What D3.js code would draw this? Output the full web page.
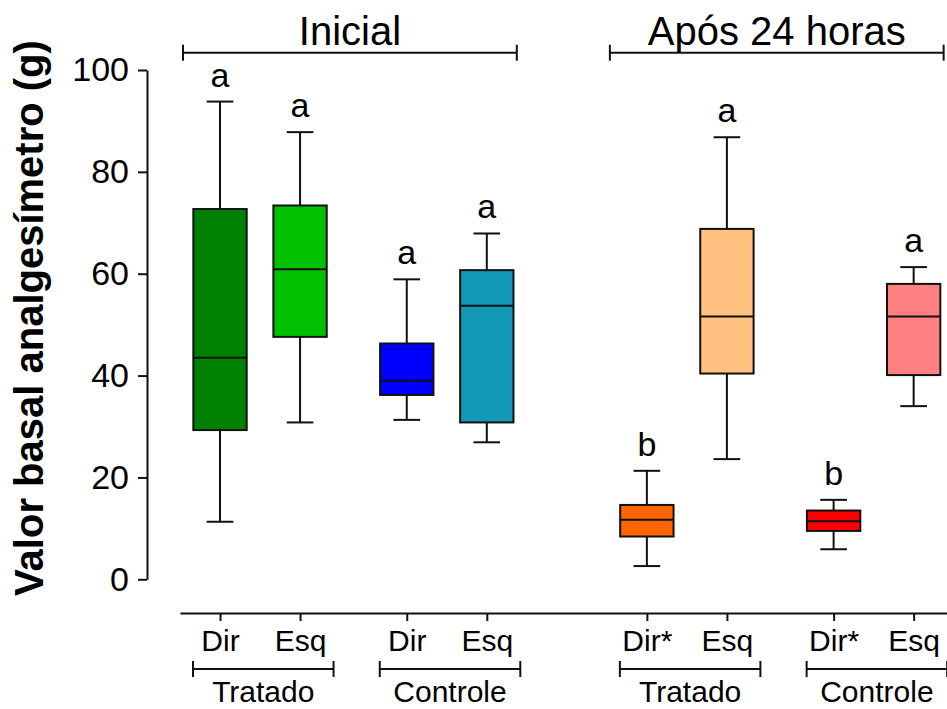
<!DOCTYPE html>
<html lang="pt">
<head>
    <meta charset="utf-8" />
    <title>Valor basal analgesímetro</title>
    <style type="text/css">
        body { margin: 0; background: #fff; }
        text { font-family: "Liberation Sans", Arial, sans-serif; fill: #000; }
        .box { stroke: #111; stroke-width: 2; }
        .wk { stroke: #111; stroke-width: 2; fill: none; }
    </style>
</head>
<body>

<script src="https://cdn.jsdelivr.net/npm/d3@7/dist/d3.min.js"></script>

<script>
    var width = 947, height = 709;

    // dados
    var categories = ["Dir", "Esq", "Dir", "Esq", "Dir*", "Esq", "Dir*", "Esq"];
    var groups = ["Tratado", "Controle", "Tratado", "Controle"];
    var times = ["Inicial", "Após 24 horas"];
    var whiskerLow  = [11.3, 30.8, 31.3, 26.9, 2.6, 23.6, 5.9, 34.0];
    var q1          = [29.3, 47.6, 36.2, 30.8, 8.4, 40.4, 9.5, 40.1];
    var median      = [43.5, 60.9, 39.0, 53.7, 11.7, 51.6, 11.4, 51.6];
    var q3          = [72.7, 73.4, 46.3, 60.7, 14.6, 68.8, 13.5, 58.0];
    var whiskerHigh = [93.8, 87.8, 58.9, 67.9, 21.3, 86.8, 15.6, 61.3];
    var letters = ["a", "a", "a", "a", "b", "a", "b", "a"];
    var colors = ["#008000", "#00c000", "#0000ff", "#1199b5", "#ff6600", "#ffc080", "#ff0000", "#ff8080"];
    var yTicks = [0, 20, 40, 60, 80, 100];

    // posição de cada caixa: 3 unidades entre Dir/Esq, +1 entre pares, +2 entre tempos
    function slot(i) { return i * 3 + Math.floor(i / 2) + Math.floor(i / 4) * 2; }

    var svg = d3.select("body").append("svg")
        .attr("width", width)
        .attr("height", height);

    var x = d3.scaleLinear().domain([-1.5, 27.25]).range([180, 947]);
    var y = d3.scaleLinear().domain([0, 100]).range([579.3, 70]);
    var boxW = x(1) - x(-1);

    // eixo Y
    var yAxis = svg.append("g")
        .attr("transform", "translate(147,0)")
        .call(d3.axisLeft(y).tickValues(yTicks).tickSize(9).tickSizeOuter(0).tickPadding(9));
    yAxis.selectAll("path, line").attr("stroke", "#111").attr("stroke-width", 2);
    yAxis.selectAll("text").style("font-size", "34px").attr("font-family", null);

    svg.append("text")
        .attr("transform", "translate(43,318) rotate(-90)")
        .attr("text-anchor", "middle")
        .style("font-size", "40px")
        .style("font-weight", "bold")
        .text("Valor basal analgesímetro (g)");

    // eixo X
    var xAxis = svg.append("g")
        .attr("transform", "translate(0,613)")
        .call(d3.axisBottom(x)
            .tickValues(categories.map(function(d, i) { return slot(i); }))
            .tickFormat(function(d, i) { return categories[i]; })
            .tickSize(8).tickSizeOuter(0).tickPadding(9));
    xAxis.selectAll("path, line").attr("stroke", "#111").attr("stroke-width", 2);
    xAxis.selectAll("text").style("font-size", "30px").attr("font-family", null);

    // caixas
    var g = svg.append("g")
        .selectAll("g")
        .data(categories)
        .enter()
        .append("g")
        .attr("transform", function(d, i) { return "translate(" + x(slot(i)) + ",0)"; });

    g.append("line").attr("class", "wk")
        .attr("y1", function(d, i) { return y(whiskerLow[i]); })
        .attr("y2", function(d, i) { return y(whiskerHigh[i]); });
    g.append("line").attr("class", "wk")
        .attr("x1", -boxW / 4).attr("x2", boxW / 4)
        .attr("y1", function(d, i) { return y(whiskerHigh[i]); })
        .attr("y2", function(d, i) { return y(whiskerHigh[i]); });
    g.append("line").attr("class", "wk")
        .attr("x1", -boxW / 4).attr("x2", boxW / 4)
        .attr("y1", function(d, i) { return y(whiskerLow[i]); })
        .attr("y2", function(d, i) { return y(whiskerLow[i]); });
    g.append("rect").attr("class", "box")
        .attr("x", -boxW / 2).attr("width", boxW)
        .attr("y", function(d, i) { return y(q3[i]); })
        .attr("height", function(d, i) { return y(q1[i]) - y(q3[i]); })
        .attr("fill", function(d, i) { return colors[i]; });
    g.append("line").attr("class", "wk")
        .attr("x1", -boxW / 2).attr("x2", boxW / 2)
        .attr("y1", function(d, i) { return y(median[i]); })
        .attr("y2", function(d, i) { return y(median[i]); });
    g.append("text")
        .attr("text-anchor", "middle")
        .attr("y", function(d, i) { return y(whiskerHigh[i]) - 15; })
        .style("font-size", "34px")
        .text(function(d, i) { return letters[i]; });

    // colchetes
    function bracket(x1, x2, yy, label, ty, size) {
        var b = svg.append("g");
        b.append("line").attr("class", "wk").attr("x1", x1).attr("x2", x2).attr("y1", yy).attr("y2", yy);
        b.append("line").attr("class", "wk").attr("x1", x1).attr("x2", x1).attr("y1", yy - 8).attr("y2", yy + 8);
        b.append("line").attr("class", "wk").attr("x1", x2).attr("x2", x2).attr("y1", yy - 8).attr("y2", yy + 8);
        b.append("text").attr("x", (x1 + x2) / 2).attr("y", ty)
            .attr("text-anchor", "middle").style("font-size", size + "px").text(label);
    }

    times.forEach(function(t, k) {
        bracket(x(slot(k * 4)) - 37, x(slot(k * 4 + 3)) + 30, 52.7, t, 45, 40);
    });
    groups.forEach(function(t, k) {
        bracket(x(slot(k * 2)) - 27, x(slot(k * 2 + 1)) + 33.5, 669, t, 701.5, 30);
    });
</script>

</body>
</html>
